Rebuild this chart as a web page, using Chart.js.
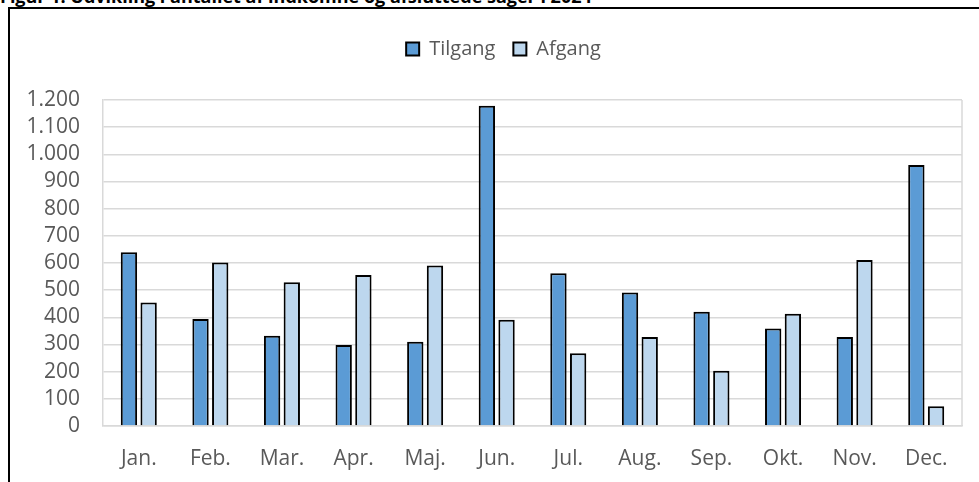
<!DOCTYPE html>
<html>
<head>
<meta charset="utf-8">
<script src="https://cdn.jsdelivr.net/npm/chart.js@4.4.1/dist/chart.umd.min.js"></script>
<style>
  html, body { margin: 0; padding: 0; background: #fff; }
  #wrap { position: relative; width: 979px; height: 482px; overflow: hidden; }
  #title { position: absolute; left: 0; top: -16px; font: bold 18px "Open Sans", sans-serif; color: #000; white-space: nowrap; }
  #frame { position: absolute; left: 8px; top: 7px; width: 1000px; height: 500px; border: 2px solid #000; box-sizing: border-box; }
  #c { position: absolute; left: 0; top: 0; }
</style>
</head>
<body>
<div id="wrap">
  <div id="title">Figur 1. Udvikling i antallet af indkomne og afsluttede sager i 2024</div>
  <div id="frame"></div>
  <canvas id="c" width="979" height="482"></canvas>
</div>
<script>
// data
const months = ["Jan.", "Feb.", "Mar.", "Apr.", "Maj.", "Jun.", "Jul.", "Aug.", "Sep.", "Okt.", "Nov.", "Dec."];
const tilgang = [640, 394, 332, 298, 310, 1179, 562, 491, 421, 359, 328, 961];
const afgang = [455, 602, 529, 556, 591, 391, 268, 328, 203, 413, 611, 73];

const textColor = "#595959";
const gridColor = "#d9d9d9";
const font = "'Open Sans', sans-serif";

// extra room under the legend, and nudge it right like the original
const legendTweak = {
  id: "legendTweak",
  beforeInit(chart) {
    const lg = chart.legend;
    const fit = lg.fit;
    lg.fit = function () {
      fit.call(this);
      this.height += 31;
    };
  },
  afterLayout(chart) {
    chart.legend.left += 11;
    chart.legend.right += 11;
  },
};

// grey right edge of the plot area
const frameLines = {
  id: "frameLines",
  afterDraw(chart) {
    const { ctx, chartArea: a } = chart;
    ctx.save();
    ctx.strokeStyle = gridColor;
    ctx.lineWidth = 1.5;
    ctx.beginPath();
    ctx.moveTo(a.right, a.top);
    ctx.lineTo(a.right, a.bottom);
    ctx.stroke();
    ctx.restore();
  },
};

new Chart(document.getElementById("c"), {
  type: "bar",
  data: {
    labels: months,
    datasets: [
      {
        label: "Tilgang",
        data: tilgang,
        backgroundColor: "#5B9BD5",
        borderColor: "#000",
        borderWidth: 2,
        categoryPercentage: 0.55,
        barPercentage: 0.83,
      },
      {
        label: "Afgang",
        data: afgang,
        backgroundColor: "#BDD7EE",
        borderColor: "#000",
        borderWidth: 2,
        categoryPercentage: 0.55,
        barPercentage: 0.83,
      },
    ],
  },
  options: {
    responsive: false,
    animation: false,
    layout: { padding: { left: 23, right: 17, top: 21, bottom: 0 } },
    plugins: {
      tooltip: { enabled: false },
      legend: {
        position: "top",
        labels: {
          color: textColor,
          font: { family: font, size: 20 },
          boxWidth: 13,
          boxHeight: 13,
          padding: 18,
        },
      },
    },
    scales: {
      x: {
        grid: { display: false },
        border: { color: gridColor, width: 1.5 },
        ticks: {
          color: textColor,
          font: { family: font, size: 21 },
          padding: 12,
          maxRotation: 0,
          autoSkip: false,
        },
        afterFit(scale) { scale.height = 56; },
      },
      y: {
        min: 0,
        max: 1200,
        ticks: {
          stepSize: 100,
          autoSkip: false,
          color: textColor,
          font: { family: font, size: 21 },
          padding: 23,
          callback: (v) => v.toLocaleString("da-DK"),
        },
        grid: { color: gridColor, lineWidth: 1.5, drawTicks: false },
        border: { color: gridColor, width: 1.5 },
        afterFit(scale) { scale.width = 80; },
      },
    },
  },
  plugins: [legendTweak, frameLines],
});
</script>
</body>
</html>
